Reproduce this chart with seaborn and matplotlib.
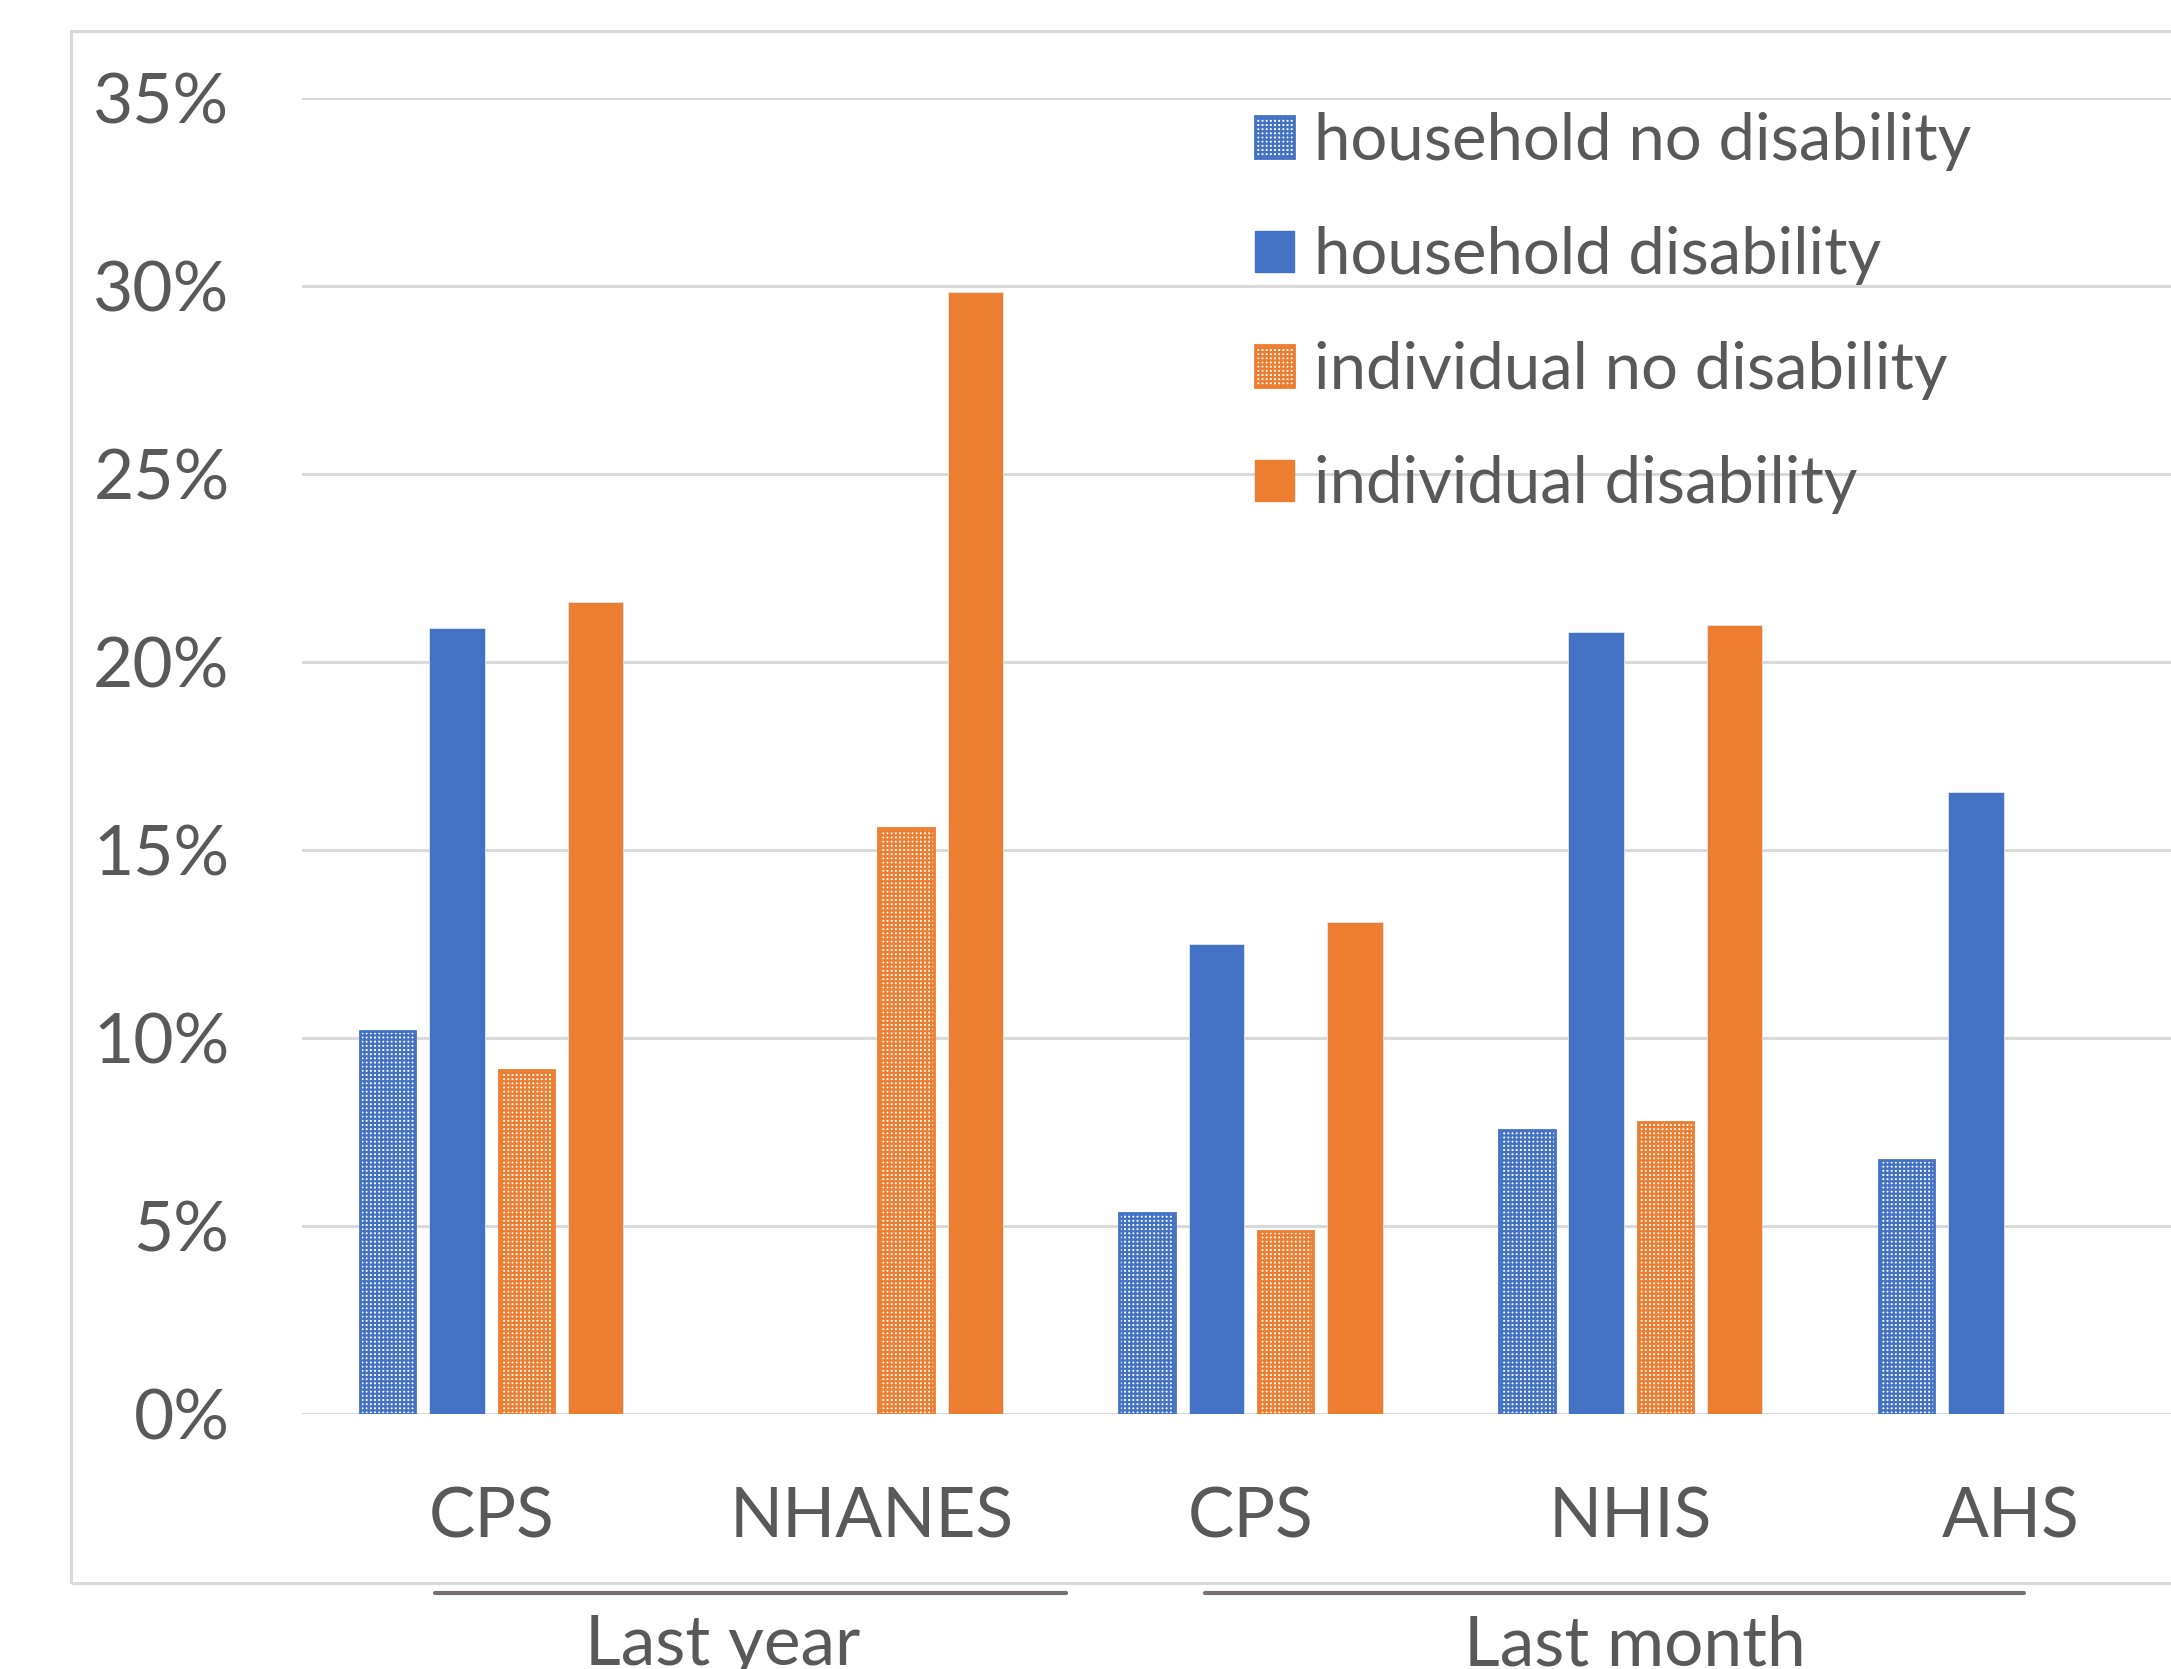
import pandas as pd
import numpy as np
import seaborn as sns
import matplotlib.pyplot as plt
from matplotlib.patches import Patch, Rectangle
from matplotlib.lines import Line2D

# data (share of people, 0-1)
surveys = ["CPS", "NHANES", "CPS ", "NHIS", "AHS"]
tick_labels = ["CPS", "NHANES", "CPS", "NHIS", "AHS"]
series = ["household no disability", "household disability",
          "individual no disability", "individual disability"]
hh_no_dis = [0.102, None, 0.0535, 0.0755, 0.0675]
hh_dis = [0.209, None, 0.125, 0.208, 0.1655]
ind_no_dis = [0.0915, 0.156, 0.0487, 0.0777, None]
ind_dis = [0.216, 0.2985, 0.131, 0.210, None]
periods = ["Last year", "Last month"]

BLUE = "#4472C4"
ORANGE = "#ED7D31"
GREY_TXT = "#595959"
colors = [BLUE, BLUE, ORANGE, ORANGE]
hatched = [True, False, True, False]
HATCH = "++++"

rows = []
for name, vals in zip(series, [hh_no_dis, hh_dis, ind_no_dis, ind_dis]):
    for s, v in zip(surveys, vals):
        if v is not None:
            rows.append({"survey": s, "series": name, "value": v})
df = pd.DataFrame(rows)

sns.set_style("white")
plt.rcParams["font.family"] = ["Lato", "DejaVu Sans"]
plt.rcParams["hatch.linewidth"] = 1.6

fig = plt.figure(figsize=(21.71, 16.69), dpi=100)
ax = fig.add_axes([0.139, 0.1527, 0.8745, 0.7884])

sns.barplot(data=df, x="survey", y="value", hue="series", order=surveys,
            hue_order=series, palette=colors, width=0.73, gap=0.2,
            errorbar=None, legend=False, ax=ax, zorder=3)

for cont, c, h in zip(ax.containers, colors, hatched):
    for bar in cont:
        if h:
            bar.set_facecolor("white")
            bar.set_edgecolor(c)
            bar.set_hatch(HATCH)
            bar.set_linewidth(2.0)
        else:
            bar.set_facecolor(c)
            bar.set_edgecolor("#dfe6f3")
            bar.set_linewidth(0.6)

ax.set_xlim(-0.5, 4.5)
ax.set_ylim(0, 0.35)
ax.set_yticks(np.arange(0, 0.351, 0.05))
ax.set_yticklabels([f"{int(round(t * 100))}%" for t in np.arange(0, 0.351, 0.05)])
ax.set_xticks(range(len(surveys)))
ax.set_xticklabels(tick_labels)
ax.tick_params(axis="both", length=0, labelsize=50, labelcolor=GREY_TXT)
ax.tick_params(axis="y", pad=52)
ax.tick_params(axis="x", pad=52)
ax.set_xlabel("")
ax.set_ylabel("")
ax.yaxis.grid(True, color="#d9d9d9", linewidth=2.2, zorder=0)
ax.set_axisbelow(True)
for sp in ax.spines.values():
    sp.set_visible(False)

# group separators and period labels under the category axis
tr = ax.get_xaxis_transform()
for (x0, x1), xt, lab in zip([(-0.15, 1.513), (1.878, 4.036)], [0.609, 3.01], periods):
    ax.add_line(Line2D([x0, x1], [-0.136, -0.136], transform=tr, color="#767171",
                       linewidth=3, clip_on=False))
    ax.text(xt, -0.152, lab, transform=tr, ha="center", va="top",
            fontsize=50, color=GREY_TXT, clip_on=False)

# outer chart frame
fig.add_artist(Rectangle((0.0325, 0.0515), 1.2, 0.9302, transform=fig.transFigure,
                         fill=False, edgecolor="#d9d9d9", linewidth=2.2))

handles = []
for name, c, h in zip(series, colors, hatched):
    if h:
        handles.append(Patch(facecolor="white", edgecolor=c, hatch=HATCH,
                             linewidth=2.0, label=name))
    else:
        handles.append(Patch(facecolor=c, edgecolor=c, label=name))
fig.legend(handles=handles, loc="upper left", bbox_to_anchor=(0.578, 0.933),
           frameon=False, fontsize=47, labelcolor=GREY_TXT, borderpad=0,
           borderaxespad=0, handlelength=0.6, handleheight=0.6,
           handletextpad=0.3, labelspacing=0.85)

fig.savefig("out.png", dpi=100)
